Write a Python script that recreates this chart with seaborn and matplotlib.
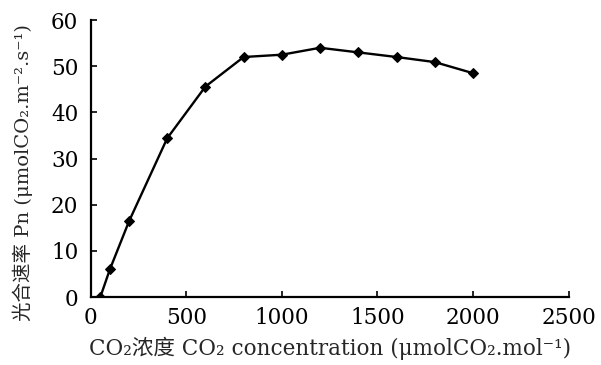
import matplotlib
matplotlib.use('Agg')
import matplotlib.pyplot as plt
import seaborn as sns
import pandas as pd

# CO2 concentration vs net photosynthetic rate
co2_conc = [50, 100, 200, 400, 600, 800, 1000, 1200, 1400, 1600, 1800, 2000]
pn_rate = [0, 6.0, 16.4, 34.4, 45.6, 52.0, 52.5, 54.0, 53.0, 52.0, 50.9, 48.5]
x_ticks = [0, 500, 1000, 1500, 2000, 2500]
y_ticks = [0, 10, 20, 30, 40, 50, 60]

df = pd.DataFrame({"co2": co2_conc, "pn": pn_rate})

sns.set_style("ticks")
plt.rcParams['font.family'] = ['DejaVu Serif', 'Noto Sans CJK SC']

fig = plt.figure(figsize=(6.01, 3.65), dpi=100)
ax = fig.add_axes([0.151, 0.186, 0.795, 0.759])

sns.lineplot(data=df, x="co2", y="pn", ax=ax, color="black", linewidth=1.7,
             marker="D", markersize=5.5, markeredgecolor="black")

ax.set_xlim(0, 2500)
ax.set_ylim(0, 60)
ax.set_xticks(x_ticks)
ax.set_yticks(y_ticks)
ax.tick_params(direction="in", length=4, width=1.2, labelsize=15.5, colors="black")
ax.tick_params(axis="x", pad=7)
ax.tick_params(axis="y", pad=9)
for s in ["top", "right"]:
    ax.spines[s].set_visible(False)
for s in ["left", "bottom"]:
    ax.spines[s].set_linewidth(1.6)
    ax.spines[s].set_color("black")

ax.set_xlabel("CO₂浓度 CO₂ concentration (μmolCO₂.mol⁻¹)", fontsize=15.5, labelpad=6)
ax.set_ylabel("光合速率 Pn (μmolCO₂.m⁻².s⁻¹)", fontsize=14)
ax.yaxis.set_label_coords(-0.12, 0.45)

fig.savefig("out.png", dpi=100)
